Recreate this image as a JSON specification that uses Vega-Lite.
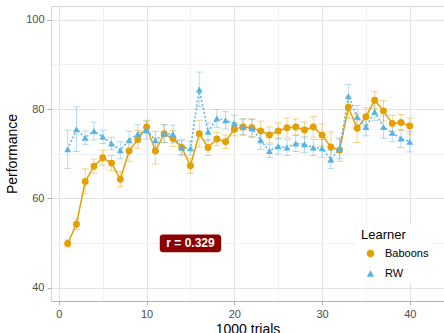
{
  "$schema": "https://vega.github.io/schema/vega-lite/v6.json",
  "autosize": "none",
  "width": 393,
  "height": 295,
  "padding": {"left": 51, "top": 6, "right": 0, "bottom": 32},
  "background": "white",
  "config": {
    "font": "Liberation Sans",
    "view": {"stroke": "#d4d4d4", "strokeWidth": 1},
    "axis": {
      "labelFontSize": 11,
      "labelColor": "#4d4d4d",
      "titleFontSize": 14,
      "titleFontWeight": "normal",
      "titleColor": "#000000",
      "tickColor": "#b3b3b3",
      "gridWidth": 1
    }
  },
  "datasets": {
    "perf": [
      {"t":1,"learner":"Baboons","perf":49.9,"lo":49.1,"hi":50.7},
      {"t":2,"learner":"Baboons","perf":54.2,"lo":53.0,"hi":55.4},
      {"t":3,"learner":"Baboons","perf":63.8,"lo":61.0,"hi":66.6},
      {"t":4,"learner":"Baboons","perf":67.2,"lo":65.6,"hi":68.8},
      {"t":5,"learner":"Baboons","perf":69.1,"lo":67.4,"hi":70.8},
      {"t":6,"learner":"Baboons","perf":67.9,"lo":66.2,"hi":69.6},
      {"t":7,"learner":"Baboons","perf":64.3,"lo":62.6,"hi":66.0},
      {"t":8,"learner":"Baboons","perf":70.6,"lo":68.3,"hi":72.9},
      {"t":9,"learner":"Baboons","perf":73.2,"lo":71.2,"hi":75.2},
      {"t":10,"learner":"Baboons","perf":76.0,"lo":74.5,"hi":77.5},
      {"t":11,"learner":"Baboons","perf":70.6,"lo":67.7,"hi":73.5},
      {"t":12,"learner":"Baboons","perf":74.5,"lo":72.5,"hi":76.5},
      {"t":13,"learner":"Baboons","perf":73.4,"lo":71.6,"hi":75.2},
      {"t":14,"learner":"Baboons","perf":71.4,"lo":69.6,"hi":73.2},
      {"t":15,"learner":"Baboons","perf":67.3,"lo":65.6,"hi":69.0},
      {"t":16,"learner":"Baboons","perf":74.5,"lo":71.5,"hi":77.5},
      {"t":17,"learner":"Baboons","perf":71.4,"lo":69.6,"hi":73.2},
      {"t":18,"learner":"Baboons","perf":73.3,"lo":71.8,"hi":74.8},
      {"t":19,"learner":"Baboons","perf":72.7,"lo":71.2,"hi":74.2},
      {"t":20,"learner":"Baboons","perf":75.5,"lo":74.0,"hi":77.0},
      {"t":21,"learner":"Baboons","perf":76.0,"lo":74.2,"hi":77.8},
      {"t":22,"learner":"Baboons","perf":75.8,"lo":73.8,"hi":77.8},
      {"t":23,"learner":"Baboons","perf":75.1,"lo":72.9,"hi":77.3},
      {"t":24,"learner":"Baboons","perf":74.2,"lo":72.4,"hi":76.0},
      {"t":25,"learner":"Baboons","perf":75.1,"lo":73.3,"hi":76.9},
      {"t":26,"learner":"Baboons","perf":75.8,"lo":73.6,"hi":78.0},
      {"t":27,"learner":"Baboons","perf":76.0,"lo":74.2,"hi":77.8},
      {"t":28,"learner":"Baboons","perf":75.3,"lo":73.5,"hi":77.1},
      {"t":29,"learner":"Baboons","perf":76.0,"lo":73.7,"hi":78.3},
      {"t":30,"learner":"Baboons","perf":74.2,"lo":71.7,"hi":76.7},
      {"t":31,"learner":"Baboons","perf":71.5,"lo":68.1,"hi":74.9},
      {"t":32,"learner":"Baboons","perf":70.8,"lo":68.3,"hi":73.3},
      {"t":33,"learner":"Baboons","perf":80.4,"lo":77.9,"hi":82.9},
      {"t":34,"learner":"Baboons","perf":75.7,"lo":72.5,"hi":78.9},
      {"t":35,"learner":"Baboons","perf":78.3,"lo":76.3,"hi":80.3},
      {"t":36,"learner":"Baboons","perf":82.0,"lo":80.1,"hi":83.9},
      {"t":37,"learner":"Baboons","perf":79.6,"lo":77.3,"hi":81.9},
      {"t":38,"learner":"Baboons","perf":76.8,"lo":75.0,"hi":78.6},
      {"t":39,"learner":"Baboons","perf":77.0,"lo":75.2,"hi":78.8},
      {"t":40,"learner":"Baboons","perf":76.2,"lo":74.4,"hi":78.0},
      {"t":1,"learner":"RW","perf":71.0,"lo":66.7,"hi":75.3},
      {"t":2,"learner":"RW","perf":75.5,"lo":70.5,"hi":80.5},
      {"t":3,"learner":"RW","perf":73.6,"lo":72.1,"hi":75.1},
      {"t":4,"learner":"RW","perf":75.1,"lo":73.1,"hi":77.1},
      {"t":5,"learner":"RW","perf":73.8,"lo":72.3,"hi":75.3},
      {"t":6,"learner":"RW","perf":72.3,"lo":70.9,"hi":73.7},
      {"t":7,"learner":"RW","perf":70.8,"lo":68.9,"hi":72.7},
      {"t":8,"learner":"RW","perf":73.0,"lo":71.0,"hi":75.0},
      {"t":9,"learner":"RW","perf":74.5,"lo":72.5,"hi":76.5},
      {"t":10,"learner":"RW","perf":75.3,"lo":73.3,"hi":77.3},
      {"t":11,"learner":"RW","perf":73.0,"lo":71.0,"hi":75.0},
      {"t":12,"learner":"RW","perf":74.5,"lo":72.5,"hi":76.5},
      {"t":13,"learner":"RW","perf":74.4,"lo":72.4,"hi":76.4},
      {"t":14,"learner":"RW","perf":71.4,"lo":69.9,"hi":72.9},
      {"t":15,"learner":"RW","perf":71.2,"lo":69.7,"hi":72.7},
      {"t":16,"learner":"RW","perf":84.4,"lo":80.5,"hi":88.3},
      {"t":17,"learner":"RW","perf":74.9,"lo":72.9,"hi":76.9},
      {"t":18,"learner":"RW","perf":77.9,"lo":75.9,"hi":79.9},
      {"t":19,"learner":"RW","perf":77.5,"lo":75.5,"hi":79.5},
      {"t":20,"learner":"RW","perf":76.8,"lo":75.0,"hi":78.6},
      {"t":21,"learner":"RW","perf":76.0,"lo":74.2,"hi":77.8},
      {"t":22,"learner":"RW","perf":75.7,"lo":73.7,"hi":77.7},
      {"t":23,"learner":"RW","perf":73.0,"lo":71.0,"hi":75.0},
      {"t":24,"learner":"RW","perf":70.6,"lo":69.1,"hi":72.1},
      {"t":25,"learner":"RW","perf":71.7,"lo":69.9,"hi":73.5},
      {"t":26,"learner":"RW","perf":71.4,"lo":69.6,"hi":73.2},
      {"t":27,"learner":"RW","perf":72.3,"lo":70.5,"hi":74.1},
      {"t":28,"learner":"RW","perf":72.1,"lo":70.3,"hi":73.9},
      {"t":29,"learner":"RW","perf":71.4,"lo":69.6,"hi":73.2},
      {"t":30,"learner":"RW","perf":71.2,"lo":69.2,"hi":73.2},
      {"t":31,"learner":"RW","perf":68.7,"lo":66.7,"hi":70.7},
      {"t":32,"learner":"RW","perf":71.2,"lo":68.9,"hi":73.5},
      {"t":33,"learner":"RW","perf":82.9,"lo":80.3,"hi":85.5},
      {"t":34,"learner":"RW","perf":78.3,"lo":75.8,"hi":80.8},
      {"t":35,"learner":"RW","perf":76.0,"lo":74.0,"hi":78.0},
      {"t":36,"learner":"RW","perf":79.4,"lo":77.4,"hi":81.4},
      {"t":37,"learner":"RW","perf":76.0,"lo":73.5,"hi":78.5},
      {"t":38,"learner":"RW","perf":74.7,"lo":72.7,"hi":76.7},
      {"t":39,"learner":"RW","perf":73.4,"lo":71.4,"hi":75.4},
      {"t":40,"learner":"RW","perf":72.7,"lo":70.4,"hi":75.0}
    ],
    "note": [
      {"x": 15, "y": 49.9, "x1": 11.5, "x2": 18.5, "y1": 47.9, "y2": 51.9, "label": "r = 0.329"}
    ]
  },
  "layer": [
    {
      "data": {"name": "perf"},
      "mark": {"type": "errorbar", "ticks": {"size": 7}, "opacity": 0.45, "thickness": 1},
      "encoding": {
        "x": {"field": "t", "type": "quantitative",
              "scale": {"domain": [-0.9, 43.9], "nice": false, "zero": false},
              "axis": {
                "title": "1000 trials",
                "values": [0, 5, 10, 15, 20, 25, 30, 35, 40],
                "labelExpr": "datum.value % 10 === 0 ? datum.label : ''",
                "grid": true,
                "gridColor": {"condition": {"test": "datum.value % 10 === 0", "value": "#e3e3e3"}, "value": "#f1f1f1"},
                "tickSize": {"condition": {"test": "datum.value % 10 === 0", "value": 4}, "value": 0},
                "domainColor": "#b3b3b3",
                "labelPadding": 3,
                "titlePadding": 3
              }},
        "y": {"field": "lo", "type": "quantitative",
              "scale": {"domain": [37, 103.1], "nice": false, "zero": false},
              "axis": {
                "title": "Performance",
                "values": [40, 50, 60, 70, 80, 90, 100],
                "labelExpr": "datum.value % 20 === 0 ? datum.label : ''",
                "grid": true,
                "gridColor": {"condition": {"test": "datum.value % 20 === 0", "value": "#e3e3e3"}, "value": "#f1f1f1"},
                "tickSize": {"condition": {"test": "datum.value % 20 === 0", "value": 4}, "value": 0},
                "domain": false,
                "labelPadding": 3,
                "titlePadding": 6
              }},
        "y2": {"field": "hi"},
        "color": {"field": "learner", "type": "nominal",
                  "scale": {"domain": ["Baboons", "RW"], "range": ["#E69F00", "#56B4E9"]},
                  "legend": {
                    "title": "Learner",
                    "orient": "none",
                    "legendX": 306,
                    "legendY": 219,
                    "fillColor": "white",
                    "padding": 4,
                    "titleFontSize": 13,
                    "titleFontWeight": "normal",
                    "titleColor": "#000000",
                    "titlePadding": 6,
                    "labelFontSize": 11,
                    "labelColor": "#000000",
                    "labelOffset": 9,
                    "symbolSize": 55,
                    "symbolOpacity": 1,
                    "symbolStrokeWidth": 0,
                    "symbolOffset": 4,
                    "rowPadding": 8
                  }}
      }
    },
    {
      "data": {"name": "perf"},
      "mark": {"type": "line", "strokeWidth": 1.5},
      "encoding": {
        "x": {"field": "t", "type": "quantitative"},
        "y": {"field": "perf", "type": "quantitative"},
        "color": {"field": "learner", "type": "nominal"},
        "strokeDash": {"field": "learner", "type": "nominal",
                       "scale": {"domain": ["Baboons", "RW"], "range": [[1, 0], [2, 2]]},
                       "legend": null}
      }
    },
    {
      "data": {"name": "perf"},
      "mark": {"type": "point", "filled": true, "opacity": 1, "size": 48},
      "encoding": {
        "x": {"field": "t", "type": "quantitative"},
        "y": {"field": "perf", "type": "quantitative"},
        "shape": {"field": "learner", "type": "nominal",
                  "scale": {"domain": ["Baboons", "RW"], "range": ["circle", "triangle-up"]},
                  "legend": null},
        "color": {"field": "learner", "type": "nominal"}
      }
    },
    {
      "data": {"name": "note"},
      "mark": {"type": "rect", "color": "#8B0000", "cornerRadius": 3},
      "encoding": {
        "x": {"field": "x1", "type": "quantitative"},
        "x2": {"field": "x2"},
        "y": {"field": "y1", "type": "quantitative"},
        "y2": {"field": "y2"}
      }
    },
    {
      "data": {"name": "note"},
      "mark": {"type": "text", "color": "white", "fontWeight": "bold", "fontSize": 12},
      "encoding": {
        "x": {"field": "x", "type": "quantitative"},
        "y": {"field": "y", "type": "quantitative"},
        "text": {"field": "label"}
      }
    }
  ]
}
